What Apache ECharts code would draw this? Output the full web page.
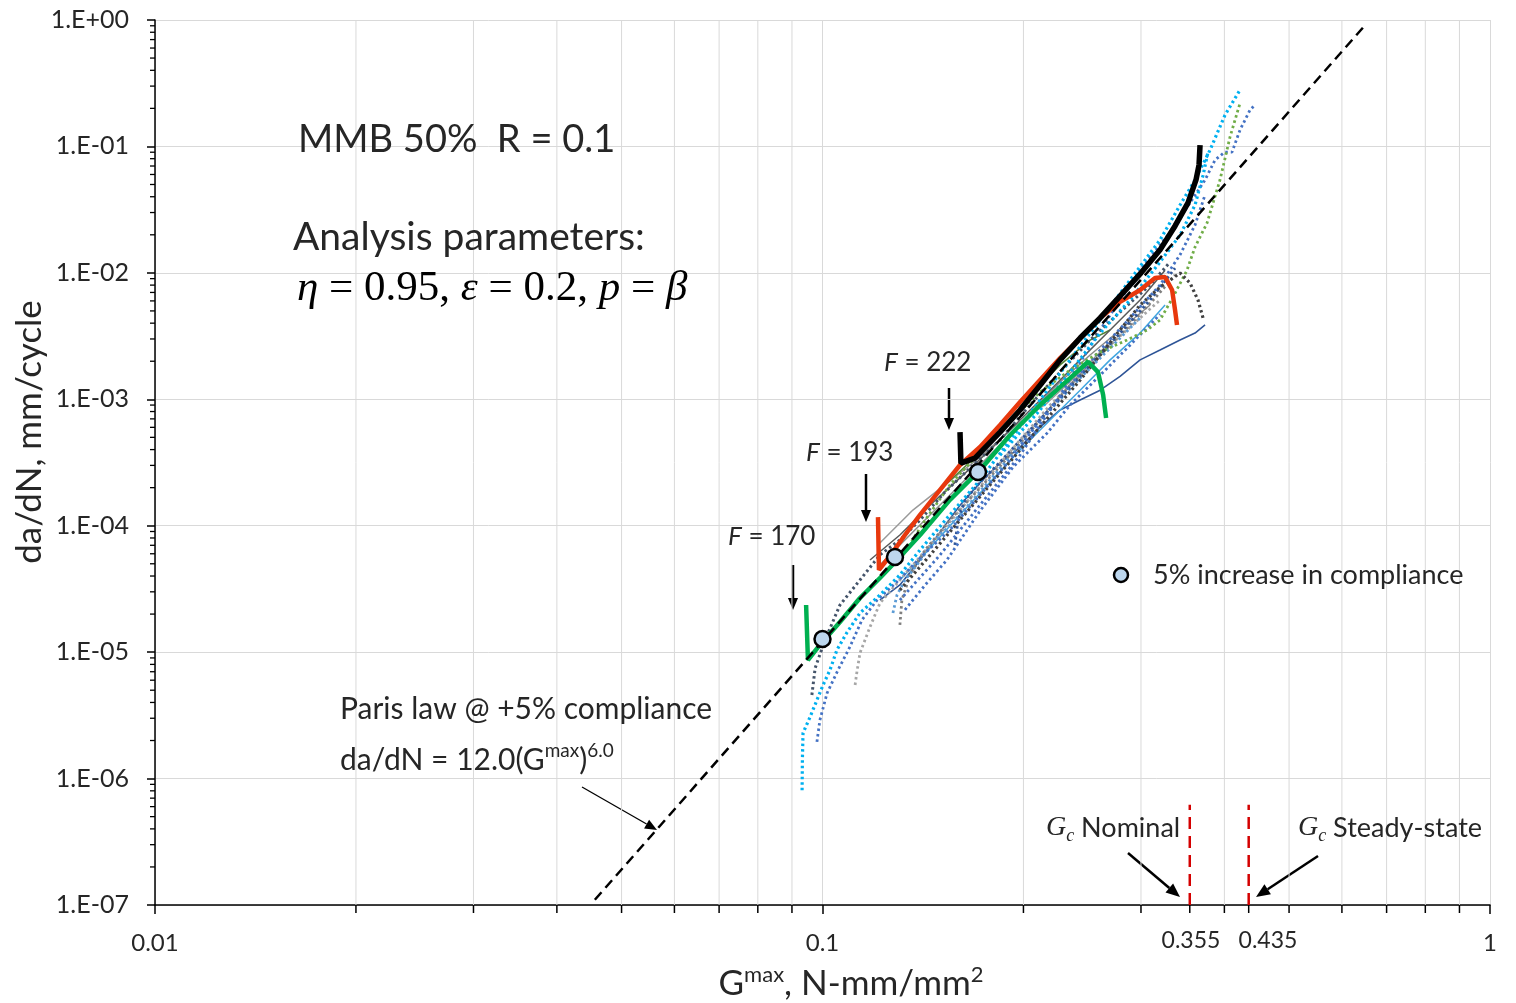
<!DOCTYPE html>
<html>
<head>
<meta charset="utf-8">
<script src="https://cdn.jsdelivr.net/npm/echarts@6/dist/echarts.min.js"></script>
<style>
html, body { margin: 0; padding: 0; background: #fff; }
#chart { width: 1516px; height: 1003px; }
</style>
</head>
<body>
<div id="chart"></div>
<script>
// 坐标轴刻度
var xTickValues = [0.01, 0.1, 1];
var xTickLabels = ['0.01', '0.1', '1'];
var yTickLabels = ['1.E-07', '1.E-06', '1.E-05', '1.E-04', '1.E-03', '1.E-02', '1.E-01', '1.E+00'];
var xExtraTicks = [0.355, 0.435];

// 各试样曲线 [Gmax, da/dN]
var traceLightBlue = [[0.0932,8.1e-7],[0.0933,1.4e-6],[0.0935,2.29e-6],[0.0958,3.07e-6],[0.0981,4.18e-6],[0.1002,5.5e-6],[0.1026,7.22e-6],[0.1051,1.04e-5],[0.1088,1.43e-5],[0.1138,2.04e-5],[0.1219,2.83e-5],[0.1306,4.08e-5],[0.1400,6.43e-5],[0.1552,1.22e-4],[0.1722,2.30e-4],[0.1910,4.76e-4],[0.2118,9.87e-4],[0.2349,2.05e-3],[0.2606,4.24e-3],[0.2889,8.78e-3],[0.3204,1.82e-2],[0.3433,3.44e-2],[0.3615,5.43e-2],[0.3807,9.37e-2],[0.4008,0.177],[0.4222,0.280]];
var traceLightBlue2 = [[0.1845,3.62e-4],[0.2118,8.23e-4],[0.2349,1.64e-3],[0.2606,3.34e-3],[0.2889,6.10e-3],[0.3204,1.22e-2],[0.3433,1.99e-2],[0.3615,3.44e-2],[0.3716,5.9e-2],[0.3781,0.0903]];
var traceDarkGrayCurl = [[0.1306,3.10e-5],[0.1450,5.87e-5],[0.1607,1.11e-4],[0.1782,2.10e-4],[0.1977,3.97e-4],[0.2193,7.51e-4],[0.2432,1.42e-3],[0.2606,2.24e-3],[0.2791,3.53e-3],[0.2991,5.57e-3],[0.3204,7.7e-3],[0.3433,9.98e-3],[0.3553,8.31e-3],[0.3652,6.10e-3],[0.3716,4.40e-3]];
var traceDarkBlueSolid = [[0.1219,2.58e-5],[0.1306,3.40e-5],[0.1400,5.36e-5],[0.1500,8.9e-5],[0.1607,1.45e-4],[0.1722,2.19e-4],[0.1845,3.13e-4],[0.1977,4.19e-4],[0.2118,6.02e-4],[0.2270,8.23e-4],[0.2432,9.87e-4],[0.2606,1.18e-3],[0.2791,1.52e-3],[0.2991,2.05e-3],[0.3204,2.45e-3],[0.3433,2.94e-3],[0.3615,3.34e-3],[0.3742,3.87e-3]];
var traceOlive = [[0.1306,5.36e-5],[0.1425,1.11e-4],[0.1552,2.10e-4],[0.1722,3.83e-4],[0.1910,6.86e-4],[0.2118,1.14e-3],[0.2349,1.70e-3],[0.2606,2.36e-3],[0.2859,2.94e-3],[0.3064,3.53e-3],[0.3204,4.24e-3],[0.3351,6.44e-3],[0.3516,1.05e-2],[0.3615,1.60e-2],[0.3768,2.48e-2],[0.3940,5.43e-2],[0.4079,0.119],[0.4222,0.22]];
var traceBlueTop = [[0.1306,2.58e-5],[0.1500,5.87e-5],[0.1722,1.46e-4],[0.1977,3.62e-4],[0.2270,1.08e-3],[0.2606,3.53e-3],[0.2991,1.05e-2],[0.3317,2.10e-2],[0.3553,3.58e-2],[0.3742,5.43e-2],[0.3873,7.81e-2],[0.4008,0.0903],[0.4107,0.0903],[0.4222,0.135],[0.4370,0.194],[0.4445,0.213]];
var traceBlueLow = [[0.0981,1.95e-6],[0.0991,2.90e-6],[0.1016,4.75e-6],[0.1055,7.22e-6],[0.1099,1.10e-5],[0.1146,1.80e-5],[0.1207,2.58e-5],[0.1293,3.6e-5],[0.1414,5.87e-5],[0.1552,9.25e-5],[0.1722,1.75e-4],[0.1910,3.31e-4],[0.2118,6.86e-4],[0.2349,1.29e-3],[0.2606,2.45e-3],[0.2889,4.40e-3],[0.3204,8.02e-3],[0.3433,1.39e-2],[0.3615,2.39e-2],[0.3742,4.14e-2]];
var traceBlueEdge = [[0.1329,2.16e-5],[0.1425,3.40e-5],[0.1536,5.36e-5],[0.1722,1.31e-4],[0.1930,2.91e-4],[0.2170,5.40e-4],[0.2349,9.01e-4],[0.2606,1.55e-3],[0.2889,2.68e-3],[0.3204,4.7e-3]];
var traceLightGray = [[0.1119,5.5e-6],[0.1126,6.96e-6],[0.1138,9.84e-6],[0.1178,1.58e-5],[0.1219,2.44e-5],[0.1306,3.72e-5],[0.1450,7.04e-5],[0.1607,1.33e-4],[0.1782,2.52e-4],[0.1977,4.76e-4],[0.2193,9.01e-4],[0.2432,1.55e-3],[0.2697,2.68e-3],[0.2991,4.40e-3],[0.3204,6.10e-3]];
var traceSlate = [[0.0964,4.58e-6],[0.0975,7.49e-6],[0.1009,1.25e-5],[0.1062,2.36e-5],[0.1138,3.72e-5],[0.1219,5.87e-5],[0.1306,7.71e-5],[0.1400,1.11e-4],[0.1526,1.85e-4],[0.1663,2.86e-4],[0.1845,4.76e-4],[0.2046,9.01e-4],[0.2270,1.64e-3],[0.2517,2.94e-3],[0.2791,4.90e-3],[0.3096,8.02e-3],[0.3317,1.22e-2]];
var traceGray = [[0.1306,1.64e-5],[0.1315,2.58e-5],[0.1352,4.08e-5],[0.1425,6.43e-5],[0.1552,1.11e-4],[0.1722,1.99e-4],[0.1910,3.62e-4],[0.2118,6.86e-4],[0.2349,1.29e-3],[0.2606,2.24e-3],[0.2889,3.87e-3],[0.3149,6.33e-3],[0.3374,9.62e-3]];
var traceNavy = [[0.1579,7.04e-5],[0.1596,1.11e-4],[0.1635,1.60e-4],[0.1722,2.21e-4],[0.1845,3.19e-4],[0.2046,5.71e-4],[0.2270,1.02e-3],[0.2517,1.87e-3],[0.2791,3.34e-3],[0.3096,6.10e-3],[0.3374,1.09e-2]];
var traceMidBlue = [[0.1275,2.04e-5],[0.1293,2.83e-5],[0.1329,3.72e-5],[0.1385,4.89e-5],[0.1475,7.71e-5],[0.1607,1.22e-4],[0.1782,2.30e-4],[0.1977,4.35e-4],[0.2193,8.23e-4],[0.2432,1.47e-3],[0.2697,2.54e-3],[0.2991,4.40e-3]];
var traceGraySolid = [[0.1219,4.89e-5],[0.1352,8.44e-5],[0.1500,1.46e-4],[0.1663,2.52e-4],[0.1845,4.35e-4],[0.2046,7.78e-4],[0.2270,1.37e-3],[0.2517,2.24e-3],[0.2791,3.53e-3],[0.3096,5.57e-3]];
var traceGrayUpper = [[0.1219,7.29e-5],[0.1366,1.33e-4],[0.1536,2.17e-4],[0.1722,3.49e-4],[0.1930,6.03e-4],[0.2170,9.34e-4],[0.2432,1.64e-3],[0.2697,2.84e-3]];
var traceCyanSolid = [[0.1306,3.72e-5],[0.1450,6.68e-5],[0.1607,1.22e-4],[0.1782,2.21e-4],[0.1977,3.97e-4],[0.2193,6.86e-4],[0.2432,1.18e-3],[0.2697,2.05e-3],[0.2991,3.34e-3],[0.3260,5.57e-3]];
var traceGreenSolid = [[0.1500,1.92e-4],[0.1663,3.19e-4],[0.1845,5.50e-4],[0.2046,1.08e-3],[0.2270,1.87e-3],[0.2517,2.94e-3],[0.2697,3.53e-3]];
var traceDarkSolid = [[0.1178,5.36e-5],[0.1306,8.44e-5],[0.1450,1.46e-4],[0.1607,2.39e-4],[0.1782,3.97e-4],[0.1977,6.86e-4],[0.2193,1.18e-3],[0.2432,2.05e-3],[0.2697,3.53e-3],[0.2991,6.10e-3],[0.3260,1.05e-2]];

// 三个载荷 F 的粗线
var lineF170 = [[0.0945,2.36e-5],[0.0951,8.67e-6],[0.0991,1.14e-5],[0.1062,1.73e-5],[0.1138,2.68e-5],[0.1219,3.86e-5],[0.1284,5.14e-5],[0.1400,8.44e-5],[0.1552,1.60e-4],[0.1722,2.76e-4],[0.1910,5.22e-4],[0.2118,9.01e-4],[0.2349,1.47e-3],[0.2500,1.98e-3],[0.2587,1.64e-3],[0.2633,1.08e-3],[0.2660,7.11e-4]];
var lineF193 = [[0.1211,1.17e-4],[0.1215,4.47e-5],[0.1262,5.76e-5],[0.1329,8.44e-5],[0.1400,1.22e-4],[0.1500,1.92e-4],[0.1607,3.02e-4],[0.1722,4.19e-4],[0.1845,6.26e-4],[0.1977,9.51e-4],[0.2118,1.42e-3],[0.2270,2.12e-3],[0.2432,3.05e-3],[0.2606,4.40e-3],[0.2791,5.9e-3],[0.2991,7.32e-3],[0.3149,9.1e-3],[0.3260,9.27e-3],[0.3340,7.32e-3],[0.3374,5.08e-3],[0.3397,3.87e-3]];
var lineF222 = [[0.1607,5.5e-4],[0.1612,3.13e-4],[0.1692,3.42e-4],[0.1845,5.5e-4],[0.1977,8.23e-4],[0.2118,1.29e-3],[0.2270,2.05e-3],[0.2432,3.05e-3],[0.2606,4.40e-3],[0.2791,6.55e-3],[0.2991,9.8e-3],[0.3204,1.52e-2],[0.3374,2.35e-2],[0.3528,3.58e-2],[0.3627,5.43e-2],[0.3665,7.13e-2],[0.3678,0.1026]];

// Paris law 虚线两端
var parisLine = [[0.0456, 1.1e-7], [0.65, 0.91]];
// 柔度增加 5% 的点
var compliancePts = [[0.1, 1.27e-5], [0.1284, 5.66e-5], [0.171, 2.66e-4]];
// Gc 竖线
var gcNominal = 0.355, gcSteady = 0.435, gcTop = 6.2e-7;

// 次刻度
var xMinor = [], yMinor = [];
[0.01, 0.1].forEach(function(d) { for (var m = 2; m <= 9; m++) xMinor.push(+(d * m).toPrecision(3)); });
for (var e = -7; e < 0; e++) { for (var m = 2; m <= 9; m++) yMinor.push(+(m * Math.pow(10, e)).toPrecision(3)); }

var FONT = 'Lato';
var TXT = '#262626';
var DOT = [2.5, 3];

function trace(data, color, type, width, z) {
  return {
    type: 'line', data: data, symbol: 'none', silent: true, z: z || 2,
    lineStyle: { color: color, width: width, type: type, cap: 'butt' }
  };
}

function arrow(x1, y1, x2, y2, w, head) {
  var a = Math.atan2(y2 - y1, x2 - x1);
  var hx = x2 - head * Math.cos(a), hy = y2 - head * Math.sin(a);
  var px = -Math.sin(a) * head * 0.42, py = Math.cos(a) * head * 0.42;
  return {
    type: 'group', children: [
      { type: 'line', shape: { x1: x1, y1: y1, x2: hx, y2: hy }, style: { stroke: '#000', lineWidth: w } },
      { type: 'polygon', shape: { points: [[x2, y2], [hx + px, hy + py], [hx - px, hy - py]] }, style: { fill: '#000' } }
    ]
  };
}

function txt(x, y, text, size, extra) {
  var st = { text: text, fontSize: size, fontFamily: FONT, fill: TXT, align: 'left', verticalAlign: 'middle', textAlign: 'left', textVerticalAlign: 'middle' };
  for (var k in extra) st[k] = extra[k];
  return { type: 'text', x: x, y: y, style: st, z: 20 };
}

function fLabel(x, y, num) {
  return txt(x, y, '{i|F}{r| = ' + num + '}', 26, {
    rich: { i: { fontStyle: 'italic', fontSize: 26, fontFamily: FONT }, r: { fontSize: 26, fontFamily: FONT } }
  });
}

function gcLabel(x, y, word) {
  return txt(x, y, '{g|G}{c|c}{t| ' + word + '}', 27, {
    rich: {
      g: { fontFamily: 'Liberation Serif', fontStyle: 'italic', fontSize: 28, lineHeight: 34 },
      c: { fontFamily: 'Liberation Serif', fontStyle: 'italic', fontSize: 18, verticalAlign: 'bottom', lineHeight: 34 },
      t: { fontFamily: FONT, fontSize: 27, lineHeight: 34 }
    }
  });
}

var chart = echarts.init(document.getElementById('chart'));

var option = {
  animation: false,
  backgroundColor: '#fff',
  grid: { left: 155, right: 26, top: 20, bottom: 98, containLabel: false },
  xAxis: {
    type: 'log', logBase: 10, min: 0.01, max: 1,
    axisLine: { lineStyle: { color: '#000', width: 1.5 } },
    axisTick: { show: true, length: 9, lineStyle: { color: '#000', width: 1.5 } },
    splitLine: { show: true, lineStyle: { color: '#d9d9d9', width: 1 } },
    axisLabel: {
      margin: 26, fontSize: 24, fontFamily: FONT, color: TXT,
      formatter: function(v) {
        for (var i = 0; i < xTickValues.length; i++) if (Math.abs(v - xTickValues[i]) < 1e-9) return xTickLabels[i];
        return '';
      }
    }
  },
  yAxis: {
    type: 'log', logBase: 10, min: 1e-7, max: 1,
    axisLine: { lineStyle: { color: '#000', width: 1.5 } },
    axisTick: { show: true, length: 8, lineStyle: { color: '#000', width: 1.5 } },
    splitLine: { show: true, lineStyle: { color: '#d9d9d9', width: 1 } },
    axisLabel: {
      margin: 26, fontSize: 25, fontFamily: FONT, color: TXT,
      formatter: function(v) { return yTickLabels[Math.round(Math.log10(v)) + 7] || ''; }
    }
  },
  series: [
    // 次网格线与次刻度
    {
      type: 'custom', z: 1, silent: true, clip: false,
      data: xMinor.map(function(v) { return [v, 1e-7]; }),
      renderItem: function(params, api) {
        var p0 = api.coord([api.value(0), 1e-7]);
        var p1 = api.coord([api.value(0), 1]);
        return { type: 'group', children: [
          { type: 'line', shape: { x1: p0[0], y1: p0[1], x2: p1[0], y2: p1[1] }, style: { stroke: '#d9d9d9', lineWidth: 1 } },
          { type: 'line', shape: { x1: p0[0], y1: p0[1], x2: p0[0], y2: p0[1] + 8 }, style: { stroke: '#000', lineWidth: 1.5 } }
        ] };
      }
    },
    {
      type: 'custom', z: 1, silent: true, clip: false,
      data: xExtraTicks.map(function(v) { return [v, 1e-7]; }),
      renderItem: function(params, api) {
        var p0 = api.coord([api.value(0), 1e-7]);
        return { type: 'line', shape: { x1: p0[0], y1: p0[1], x2: p0[0], y2: p0[1] + 8 }, style: { stroke: '#000', lineWidth: 1.5 } };
      }
    },
    {
      type: 'custom', z: 1, silent: true, clip: false,
      data: yMinor.map(function(v) { return [0.01, v]; }),
      renderItem: function(params, api) {
        var p = api.coord([0.01, api.value(1)]);
        return { type: 'line', shape: { x1: p[0] - 5, y1: p[1], x2: p[0], y2: p[1] }, style: { stroke: '#000', lineWidth: 1.3 } };
      }
    },
    trace(traceDarkBlueSolid, '#2f5597', 'solid', 1.6),
    trace(traceGraySolid, '#8c8c8c', 'solid', 1.5),
    trace(traceGrayUpper, '#9a9a9a', 'solid', 1.5),
    trace(traceCyanSolid, '#41a6e0', 'solid', 1.5),
    trace(traceGreenSolid, '#548235', 'solid', 1.5),
    trace(traceDarkSolid, '#595959', 'solid', 1.5),
    trace(traceLightGray, '#a6a6a6', DOT, 2.8),
    trace(traceGray, '#7f7f7f', DOT, 2.8),
    trace(traceMidBlue, '#5b9bd5', DOT, 2.8),
    trace(traceNavy, '#2f5597', DOT, 2.8),
    trace(traceBlueEdge, '#4472c4', DOT, 2.8),
    trace(traceBlueLow, '#4472c4', DOT, 2.8),
    trace(traceBlueTop, '#4472c4', DOT, 2.8),
    trace(traceOlive, '#70ad47', DOT, 2.8),
    trace(traceSlate, '#44546a', DOT, 3),
    trace(traceDarkGrayCurl, '#404040', DOT, 3.2),
    trace(traceLightBlue2, '#00b0f0', DOT, 3.2),
    trace(traceLightBlue, '#00b0f0', DOT, 3.2),
    trace(lineF170, '#00b050', 'solid', 4.5, 3),
    trace(lineF193, '#e8380d', 'solid', 4.5, 3),
    trace(lineF222, '#000000', 'solid', 5.5, 3),
    {
      type: 'line', data: parisLine, symbol: 'none', silent: true, z: 4,
      lineStyle: { color: '#000', width: 2.5, type: [10, 6] }
    },
    {
      type: 'line', data: [[gcNominal, 1e-7], [gcNominal, gcTop]], symbol: 'none', silent: true, z: 4,
      lineStyle: { color: '#d40000', width: 2.5, type: [12, 7] }
    },
    {
      type: 'line', data: [[gcSteady, 1e-7], [gcSteady, gcTop]], symbol: 'none', silent: true, z: 4,
      lineStyle: { color: '#d40000', width: 2.5, type: [12, 7] }
    },
    {
      name: '5% increase in compliance',
      type: 'scatter', data: compliancePts, symbol: 'circle', symbolSize: 16, z: 6, silent: true,
      itemStyle: { color: '#bdd7ee', borderColor: '#000', borderWidth: 2.5, opacity: 1 }
    }
  ],
  graphic: [
    txt(298, 140, 'MMB 50%  R = 0.1', 38),
    txt(293, 237, 'Analysis parameters:', 39),
    txt(297, 289, '{i|η}{r| = 0.95, }{i|ε}{r| = 0.2, }{i|p}{r| = }{i|β}', 43, {
      rich: {
        i: { fontFamily: 'Liberation Serif', fontStyle: 'italic', fontSize: 43, fill: '#000' },
        r: { fontFamily: 'Liberation Serif', fontSize: 43, fill: '#000' }
      }
    }),
    fLabel(728, 537, '170'),
    fLabel(806, 453, '193'),
    fLabel(884, 363, '222'),
    arrow(793, 565, 793, 610, 2.5, 12),
    arrow(866, 474, 866, 522, 2.5, 12),
    arrow(949, 388, 949, 430, 2.5, 12),
    txt(340, 709, 'Paris law @ +5% compliance', 30),
    txt(340, 760, '{a|da/dN = 12.0(G}{s|max}{a|)}{s|6.0}', 30, {
      rich: {
        a: { fontSize: 30, fontFamily: FONT, lineHeight: 38 },
        s: { fontSize: 19, fontFamily: FONT, verticalAlign: 'top', lineHeight: 38 }
      }
    }),
    arrow(582, 787, 657, 830, 1.3, 12),
    gcLabel(1046, 828, 'Nominal'),
    gcLabel(1298, 828, 'Steady-state'),
    arrow(1128, 853, 1180, 897, 2.5, 14),
    arrow(1318, 856, 1256, 897, 2.5, 14),
    txt(1191, 941, '0.355', 23, { align: 'center', textAlign: 'center' }),
    txt(1268, 941, '0.435', 23, { align: 'center', textAlign: 'center' }),
    { type: 'circle', shape: { cx: 1121, cy: 575, r: 7 }, style: { fill: '#bdd7ee', stroke: '#000', lineWidth: 2.5 }, z: 20 },
    txt(1153, 575, '5% increase in compliance', 27),
    {
      type: 'text', x: 30, y: 432, rotation: Math.PI / 2, z: 20,
      style: { text: 'da/dN, mm/cycle', fontSize: 35, fontFamily: FONT, fill: TXT, align: 'center', verticalAlign: 'middle', textAlign: 'center', textVerticalAlign: 'middle' }
    },
    txt(851, 984, '{a|G}{s|max}{a|, N-mm/mm}{s|2}', 35, {
      align: 'center', textAlign: 'center',
      rich: {
        a: { fontSize: 35, fontFamily: FONT, lineHeight: 40 },
        s: { fontSize: 22, fontFamily: FONT, verticalAlign: 'top', lineHeight: 40 }
      }
    })
  ]
};

chart.setOption(option);
</script>
</body>
</html>
